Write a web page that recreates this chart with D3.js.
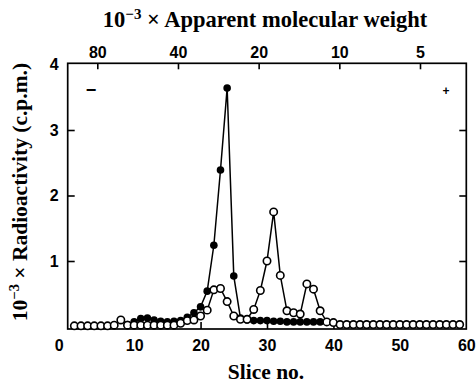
<!DOCTYPE html>
<html><head><meta charset="utf-8">
<script src="https://cdn.jsdelivr.net/npm/d3@7"></script>
<style>body{margin:0;background:#fff}svg{display:block}</style>
</head><body>
<svg id="c" width="476" height="384"></svg>
<script>
// ---- data ----
const sliceTicks = [0, 10, 20, 30, 40, 50, 60];
const yTicks = [1, 2, 3, 4];
const mwTicks = [80, 40, 20, 10, 5];
// open circles: slices 1..59
const openValues = [0.01,0.01,0.01,0.01,0.01,0.01,0.02,0.10,0.02,0.02,
  0.02,0.02,0.02,0.02,0.02,0.02,0.05,0.09,0.10,0.16,
  0.25,0.56,0.58,0.38,0.16,0.11,0.11,0.26,0.55,1.00,
  1.75,0.78,0.24,0.21,0.19,0.65,0.57,0.24,0.07,0.06,
  0.03,0.03,0.03,0.03,0.03,0.03,0.03,0.03,0.03,0.03,
  0.03,0.03,0.03,0.03,0.03,0.03,0.03,0.03,0.03];
// filled circles: slices 1..38 (none visible before slice 9)
const filledValues = [null,null,null,null,null,null,null,null,0.03,0.07,
  0.12,0.13,0.10,0.08,0.07,0.08,0.09,0.14,0.21,0.30,
  0.54,1.24,2.39,3.64,0.77,0.13,0.10,0.09,0.09,0.09,
  0.08,0.08,0.07,0.07,0.07,0.07,0.07,0.07];

const svg = d3.select("#c");
const L = 67.7, R = 466.3, T = 63.3, B = 329;
const x = d3.scaleLinear().domain([0, 60]).range([L, R]);
const y = d3.scaleLinear().domain([0, 4]).range([326.5, 64.5]);
const mw = d3.scaleLog().domain([80, 5]).range([97.3, 420]);

const serif = "'Liberation Serif', 'Times New Roman', serif";
const sans = "'Liberation Sans', Arial, sans-serif";

// frame
svg.append("rect").attr("x", L).attr("y", T).attr("width", R - L).attr("height", B - T)
  .attr("fill", "none").attr("stroke", "#000").attr("stroke-width", 1.7);

function styleAxis(g) {
  g.select(".domain").remove();
  g.selectAll("line").attr("stroke", "#000").attr("stroke-width", 1.6);
  g.selectAll("text").attr("font-family", sans).attr("font-weight", "bold")
    .attr("font-size", 16).attr("fill", "#000");
}

// bottom axis
svg.append("g").attr("transform", `translate(0,${B})`)
  .call(d3.axisBottom(x).tickValues(sliceTicks).tickSize(-7).tickPadding(11).tickFormat(d3.format("d")))
  .call(styleAxis)
  .call(g => g.selectAll(".tick").filter(d => d === 0 || d === 60).select("line").remove())
  .call(g => g.selectAll(".tick").filter(d => d === 0).select("text").attr("dx", -9));

// left axis
svg.append("g").attr("transform", `translate(${L},0)`)
  .call(d3.axisLeft(y).tickValues(yTicks).tickSize(-7).tickPadding(9).tickFormat(d3.format("d")))
  .call(styleAxis)
  .call(g => g.selectAll(".tick").filter(d => d === 4).select("line").remove());

// right axis ticks
svg.append("g").attr("transform", `translate(${R},0)`)
  .call(d3.axisRight(y).tickValues([1, 2, 3]).tickSize(-7).tickFormat(""))
  .call(styleAxis);

// top axis (apparent molecular weight)
svg.append("g").attr("transform", `translate(0,${T})`)
  .call(d3.axisTop(mw).tickValues(mwTicks).tickSize(-6).tickPadding(5).tickFormat(d3.format("d")))
  .call(styleAxis);

// titles
const topTitle = svg.append("text").attr("x", 265).attr("y", 27).attr("text-anchor", "middle")
  .attr("font-family", serif).attr("font-weight", "bold").attr("font-size", 22.5);
topTitle.append("tspan").text("10");
topTitle.append("tspan").attr("dy", -8).attr("font-size", 15).text("−3");
topTitle.append("tspan").attr("dy", 8).text(" × Apparent molecular weight");

const yTitle = svg.append("text").attr("transform", "translate(27,192) rotate(-90)")
  .attr("text-anchor", "middle").attr("font-family", serif).attr("font-weight", "bold").attr("font-size", 21.5);
yTitle.append("tspan").text("10");
yTitle.append("tspan").attr("dy", -8).attr("font-size", 14.5).text("−3");
yTitle.append("tspan").attr("dy", 8).text(" × Radioactivity (c.p.m.)");

svg.append("text").attr("x", 266).attr("y", 379).attr("text-anchor", "middle")
  .attr("font-family", serif).attr("font-weight", "bold").attr("font-size", 21.5).text("Slice no.");

// − and + markers
svg.append("text").attr("x", 91).attr("y", 96).attr("text-anchor", "middle")
  .attr("font-family", sans).attr("font-size", 18).attr("font-weight", "bold").text("−");
svg.append("text").attr("x", 446).attr("y", 95).attr("text-anchor", "middle")
  .attr("font-family", sans).attr("font-size", 12).attr("font-weight", "bold").text("+");

const line = d3.line().defined(d => d != null).x((d, i) => x(i + 1)).y(d => y(d));

// filled series
svg.append("path").datum(filledValues).attr("d", line)
  .attr("fill", "none").attr("stroke", "#000").attr("stroke-width", 1.5);
svg.append("g").selectAll("circle").data(filledValues.map((v, i) => ({v, i})).filter(d => d.v != null)).join("circle")
  .attr("cx", d => x(d.i + 1)).attr("cy", d => y(d.v)).attr("r", 3.8).attr("fill", "#000");

// open series
svg.append("path").datum(openValues).attr("d", line)
  .attr("fill", "none").attr("stroke", "#000").attr("stroke-width", 1.5);
svg.append("g").selectAll("circle").data(openValues).join("circle")
  .attr("cx", (d, i) => x(i + 1)).attr("cy", d => y(d)).attr("r", 3.7)
  .attr("fill", "#fff").attr("stroke", "#000").attr("stroke-width", 1.6);
</script>
</body></html>
